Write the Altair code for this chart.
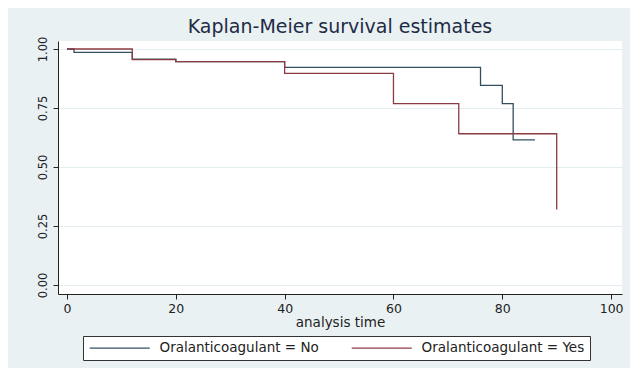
import altair as alt
import pandas as pd

# Kaplan-Meier step data
no_time = [0, 1.3, 12, 20, 40, 76, 80, 82, 86]
no_surv = [1.0, 0.986, 0.957, 0.947, 0.922, 0.846, 0.769, 0.615, 0.615]
yes_time = [0, 12, 20, 40, 60, 72, 90]
yes_surv = [1.0, 0.955, 0.947, 0.897, 0.769, 0.641, 0.320]

groups = ["Oralanticoagulant = No", "Oralanticoagulant = Yes"]
colors = ["#34505e", "#8b3b42"]
x_ticks = [0, 20, 40, 60, 80, 100]
y_ticks = [0.0, 0.25, 0.5, 0.75, 1.0]

rows = []
for t, s in zip(no_time, no_surv):
    rows.append({"time": t, "surv": s, "group": groups[0]})
for t, s in zip(yes_time, yes_surv):
    rows.append({"time": t, "surv": s, "group": groups[1]})
df = pd.DataFrame(rows)

FONT = "DejaVu Sans"

chart = (
    alt.Chart(df)
    .mark_line(interpolate="step-after", strokeWidth=1.3)
    .encode(
        x=alt.X(
            "time:Q",
            scale=alt.Scale(domain=[-1.65, 102], nice=False, zero=False),
            axis=alt.Axis(
                values=x_ticks,
                title="analysis time",
                grid=False,
                tickSize=5,
                labelPadding=3,
                labelFontSize=12.5,
                labelFont=FONT,
                labelColor="#222222",
                titleFont=FONT,
                titleFontSize=13.5,
                titleFontWeight="normal",
                titleColor="#222222",
                titleY=32,
                titleBaseline="alphabetic",
                domainColor="#222222",
                tickColor="#222222",
            ),
        ),
        y=alt.Y(
            "surv:Q",
            scale=alt.Scale(domain=[-0.038, 1.034], nice=False, zero=False),
            axis=alt.Axis(
                values=y_ticks,
                format=".2f",
                title=None,
                grid=True,
                gridColor="#e3edf0",
                gridWidth=1,
                tickSize=5,
                labelAngle=270,
                labelAlign="center",
                labelBaseline="bottom",
                labelPadding=5,
                labelFontSize=11.5,
                labelFont=FONT,
                labelColor="#222222",
                domainColor="#222222",
                tickColor="#222222",
            ),
        ),
        color=alt.Color(
            "group:N",
            scale=alt.Scale(domain=groups, range=colors),
            legend=alt.Legend(
                title=None,
                orient="none",
                legendX=25,
                legendY=295,
                direction="horizontal",
                symbolType="M-1,0H11",
                symbolSize=100,
                symbolStrokeWidth=1.2,
                labelFont=FONT,
                labelFontSize=13.5,
                labelColor="#222222",
                labelOffset=58,
                labelLimit=400,
                columnPadding=30,
                padding=5,
                strokeColor="#333333",
                fillColor="white",
            ),
        ),
    )
    .properties(
        width=564,
        height=253,
        autosize=alt.AutoSizeParams(type="none"),
        padding={"left": 50, "top": 33, "right": 8, "bottom": 74},
        background="#e9f1f3",
        title=alt.TitleParams(
            "Kaplan-Meier survival estimates",
            font=FONT,
            fontSize=19,
            fontWeight="normal",
            color="#1e2b45",
            anchor="middle",
            baseline="alphabetic",
            offset=3,
            dy=19,
        ),
    )
    .configure_view(fill="white", strokeWidth=0)
)

chart.save("out.html", embed_options={"renderer": "svg", "actions": False})
